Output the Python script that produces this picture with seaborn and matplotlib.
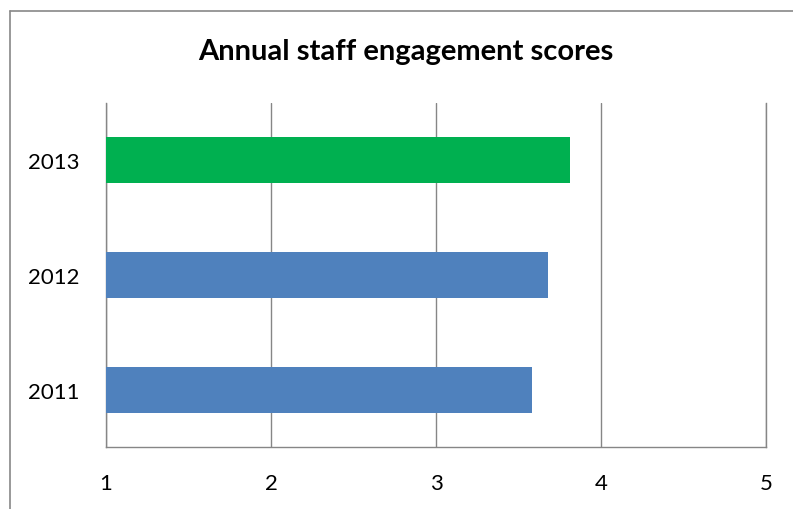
import matplotlib
matplotlib.use("Agg")
import matplotlib.pyplot as plt
from matplotlib.lines import Line2D
import seaborn as sns
import pandas as pd

# Scores per year
years = ["2011", "2012", "2013"]
scores = [3.58, 3.68, 3.81]
bar_colors = ["#4F81BD", "#4F81BD", "#00B050"]
x_ticks = [1, 2, 3, 4, 5]

df = pd.DataFrame({"year": years, "score": scores})

sns.set_theme(style="white")
plt.rcParams["font.family"] = ["Lato", "DejaVu Sans"]

fig = plt.figure(figsize=(7.93, 5.10), dpi=100)
W, H = 793, 510
ax = fig.add_axes([106 / W, 1 - 448 / H, (766 - 106) / W, (448 - 104) / H])

order = years[::-1]
palette = dict(zip(years, bar_colors))
sns.barplot(data=df, x="score", y="year", order=order, hue="year",
            palette=palette, orient="h", width=0.4, legend=False,
            saturation=1, edgecolor="none", linewidth=0, ax=ax, zorder=3)

ax.set_xlim(1, 5)
ax.set_xticks(x_ticks)
ax.set_xticklabels([str(t) for t in x_ticks])
ax.xaxis.grid(True, color="#868686", linewidth=1.0, zorder=0)
ax.yaxis.grid(False)

ax.spines["top"].set_visible(False)
for side in ["left", "bottom", "right"]:
    ax.spines[side].set_color("#868686")
    ax.spines[side].set_linewidth(1.0)

ax.tick_params(axis="both", length=0, labelsize=16, colors="black", pad=19)
ax.set_xlabel("")
ax.set_ylabel("")

fig.text(406 / W, 1 - 52 / H, "Annual staff engagement scores",
         ha="center", va="center", fontsize=21, fontweight="bold", color="black")

# chart-area border (runs off the right and bottom edges)
fig.add_artist(Line2D([9.5 / W, 1.0], [1 - 11.5 / H, 1 - 11.5 / H],
                      transform=fig.transFigure, color="#888888", linewidth=1.2))
fig.add_artist(Line2D([9.5 / W, 9.5 / W], [1 - 11.5 / H, 0.0],
                      transform=fig.transFigure, color="#888888", linewidth=1.2))

fig.savefig("out.png", dpi=100, facecolor="white")
